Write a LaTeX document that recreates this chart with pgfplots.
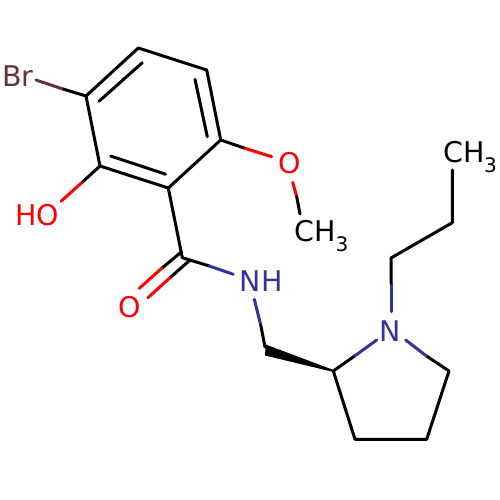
\documentclass[border=0pt]{standalone}
\usepackage{fontspec}
\setmainfont{DejaVu Sans}
\usepackage{pgfplots}
\pgfplotsset{compat=1.18}
\definecolor{nblue}{HTML}{333399}
\definecolor{brbrown}{HTML}{663333}
\newcommand{\lab}{\fontsize{28.5}{32}\selectfont}
\newcommand{\sub}{\fontsize{20}{24}\selectfont}
\begin{document}
\begin{tikzpicture}
\useasboundingbox (0,0) rectangle (500pt,500pt);
\begin{axis}[
  at={(0,0)}, anchor=south west,
  scale only axis, width=500pt, height=500pt,
  xmin=0, xmax=500, ymin=0, ymax=500, y dir=reverse,
  hide axis, clip=false,
  every axis plot/.append style={no marks, line width=3pt, line join=round, line cap=round},
]
% ring
\addplot[black] coordinates {(86,96) (138.3,48) (206.7,70) (220.7,140) (168.3,188) (100,166) (86,96)};
\addplot[black] coordinates {(99,101.3) (142.3,62.7)};
\addplot[black] coordinates {(195,79.3) (207.3,136.7)};
\addplot[black] coordinates {(110.7,156) (165.7,174.3)};
% Br
\addplot[black] coordinates {(86,96) (62,88.7)};
\addplot[brbrown] coordinates {(62,88.7) (36,80)};
% OH
\addplot[black] coordinates {(100,166) (81.7,182.7)};
\addplot[red] coordinates {(81.7,182.7) (61,201.3)};
% methoxy
\addplot[black] coordinates {(220.7,140) (245,148.3)};
\addplot[red] coordinates {(245,148.3) (271.7,156.7)};
\addplot[red] coordinates {(292.7,182.3) (296.7,196.7)};
\addplot[black] coordinates {(296.7,196.7) (300,214)};
% amide
\addplot[black] coordinates {(168.3,188) (182.3,257.7)};
\addplot[black] coordinates {(181.7,251.7) (161.7,268.3)};
\addplot[red] coordinates {(161.7,268.3) (139.3,288.3)};
\addplot[black] coordinates {(189.3,260.7) (170,277.7)};
\addplot[red] coordinates {(170,277.7) (148,297.7)};
\addplot[black] coordinates {(182.3,257.7) (209.3,266)};
\addplot[nblue] coordinates {(209.3,266) (233.3,274.3)};
% NH to CH2
\addplot[nblue] coordinates {(254.3,299.3) (260.7,325)};
\addplot[black] coordinates {(260.7,325) (265,347)};
% wedge
\addplot[fill=black, draw=none] coordinates {(265.7,344.5) (333.5,370) (333.5,372) (265,355.5)} -- cycle;
% pyrrolidine
\addplot[black] coordinates {(355,355.7) (333.3,371) (355,439.3) (426.7,439.3) (449,371) (426,355.7)};
\addplot[nblue] coordinates {(355,355.7) (376.7,340)};
\addplot[nblue] coordinates {(426,355.7) (405.7,340)};
% propyl
\addplot[nblue] coordinates {(391,311.7) (391,283.3)};
\addplot[black] coordinates {(391,283.3) (391,258) (452.3,222.7) (452.3,170)};
% labels
\node[anchor=base, brbrown] at (axis cs:18,86.5) {\lab Br};
\node[anchor=base, red] at (axis cs:37.3,225) {\lab HO};
\node[anchor=base, red] at (axis cs:130,317) {\lab O};
\node[anchor=base, red] at (axis cs:289.3,174) {\lab O};
\node[anchor=base, nblue] at (axis cs:261.3,291.5) {\lab NH};
\node[anchor=base, nblue] at (axis cs:390,341) {\lab N};
\node[anchor=base west, inner sep=0pt] at (axis cs:294,241.7) {\lab CH};
\node[anchor=base west, inner sep=0pt] at (axis cs:335.5,251.5) {\sub 3};
\node[anchor=base west, inner sep=0pt] at (axis cs:443,162.3) {\lab CH};
\node[anchor=base west, inner sep=0pt] at (axis cs:484,172.3) {\sub 3};
\end{axis}
\end{tikzpicture}
\end{document}
